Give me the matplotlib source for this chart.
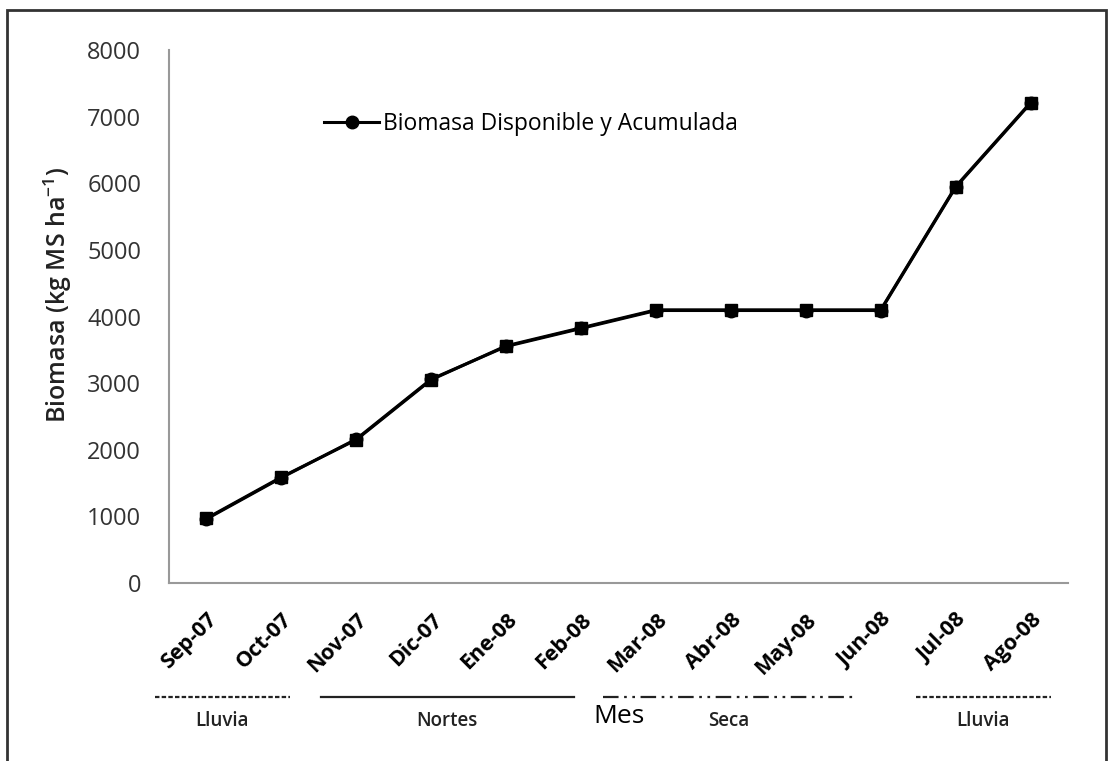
import matplotlib.pyplot as plt
from matplotlib.patches import Rectangle

plt.rcParams['font.family'] = ['Open Sans', 'DejaVu Sans']

meses = ['Sep-07', 'Oct-07', 'Nov-07', 'Dic-07', 'Ene-08', 'Feb-08',
         'Mar-08', 'Abr-08', 'May-08', 'Jun-08', 'Jul-08', 'Ago-08']
biomasa = [960, 1580, 2160, 3060, 3550, 3820, 4090, 4090, 4090, 4090, 5940, 7200]
biomasa_acum = [970, 1590, 2150, 3050, 3560, 3830, 4100, 4100, 4100, 4100, 5950, 7210]
yticks = [0, 1000, 2000, 3000, 4000, 5000, 6000, 7000, 8000]

# epocas: nombre, desde, hasta (en posicion de mes), estilo de linea
epocas = ['Lluvia', 'Nortes', 'Seca', 'Lluvia']
ep_ini = [-0.69, 1.53, 5.29, 9.47]
ep_fin = [1.11, 4.90, 8.65, 11.27]
ep_ls = [(0, (2, 1)), '-', (0, (7, 2.5, 1.2, 2.5, 1.2, 2.5)), (0, (2, 1))]

fig = plt.figure(figsize=(11.13, 7.61), dpi=100)
ax = fig.add_axes([169 / 1113, 1 - 583 / 761, 899 / 1113, 533 / 761])

x = list(range(len(meses)))
ax.plot(x, biomasa_acum, color='black', lw=2.2, marker='s', ms=9, label='_nolegend_')
ax.plot(x, biomasa, color='black', lw=2.2, marker='o', ms=9,
        label='Biomasa Disponible y Acumulada')

ax.set_xlim(-0.5, len(meses) - 0.5)
ax.set_ylim(0, 8000)
ax.set_yticks(yticks)
ax.set_xticks(x)
ax.set_xticklabels(meses, rotation=45, ha='right', rotation_mode='anchor',
                   fontsize=15.5, fontweight='bold')
ax.tick_params(axis='y', length=0, pad=20, labelsize=17, colors='#333333')
ax.tick_params(axis='x', length=0, pad=19, colors='black')
for s in ['top', 'right']:
    ax.spines[s].set_visible(False)
for s in ['left', 'bottom']:
    ax.spines[s].set_color('#999999')
    ax.spines[s].set_linewidth(1.5)

ax.set_ylabel('Biomasa (kg MS ha$^{\\mathregular{-1}}$)', fontsize=18,
              fontweight='semibold', color='#222222')
ax.yaxis.set_label_coords(-0.106, 0.54)

leg = ax.legend(loc='upper left', bbox_to_anchor=(0.16, 0.905), frameon=False,
                fontsize=16.5, handlelength=2.4, handletextpad=0.15, borderpad=0)

# lineas de epocas bajo el eje
tr = ax.get_xaxis_transform()
for nombre, a, b, ls in zip(epocas, ep_ini, ep_fin, ep_ls):
    ax.plot([a, b], [-0.214, -0.214], color='#222222', lw=1.6, ls=ls,
            transform=tr, clip_on=False)
    ax.text((a + b) / 2, -0.258, nombre, transform=tr, ha='center', va='center',
            fontsize=13.5, fontweight='semibold', color='#222222')
ax.text(5.5, -0.25, 'Mes', transform=tr, ha='center', va='center', fontsize=19)

# marco de la figura
fig.patches.append(Rectangle((7 / 1113, -0.05), 1099 / 1113, 1.05 - 10 / 761,
                             transform=fig.transFigure, fill=False,
                             edgecolor='#333333', lw=2))

fig.savefig('out.png', dpi=100)
